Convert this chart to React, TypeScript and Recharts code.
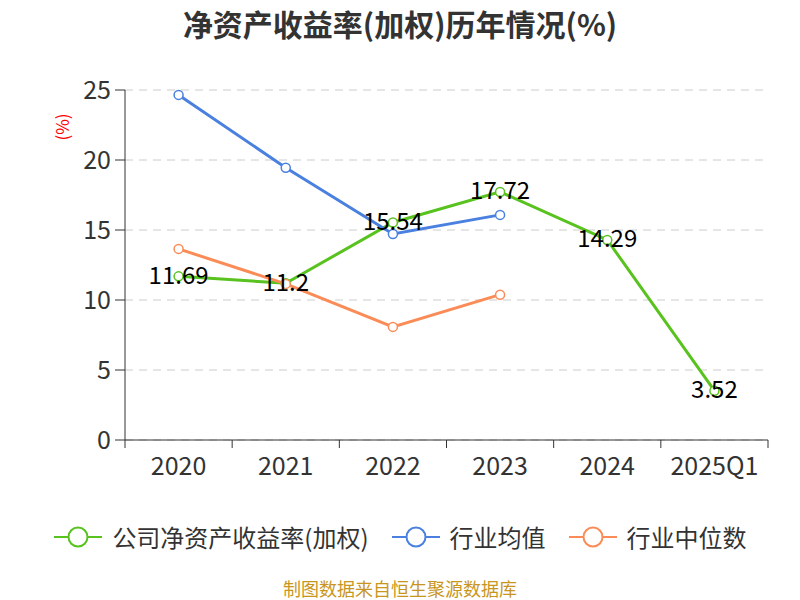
import React from 'react'
import { LineChart, Line, XAxis, YAxis, CartesianGrid, LabelList } from 'recharts'

const categories = ['2020', '2021', '2022', '2023', '2024', '2025Q1']
const companyRoe = [11.69, 11.2, 15.54, 17.72, 14.29, 3.52]
const industryAvg = [24.65, 19.45, 14.72, 16.08, null, null]
const industryMedian = [13.65, 11.15, 8.08, 10.38, null, null]
const yTicks = [0, 5, 10, 15, 20, 25]

const GREEN = '#58c21e'
const BLUE = '#4a80e0'
const ORANGE = '#fb8c57'
const FONT = '"Noto Sans CJK SC", "Noto Sans", sans-serif'
const TICK_SIZE = 8
const TICK_MARGIN = 9

const data = categories.map((name, i) => ({
  name,
  company: companyRoe[i],
  avg: industryAvg[i],
  median: industryMedian[i],
}))

const series = [
  { key: 'company', name: '公司净资产收益率(加权)', color: GREEN },
  { key: 'avg', name: '行业均值', color: BLUE },
  { key: 'median', name: '行业中位数', color: ORANGE },
]

// category label, plus tick marks at the band edges (boundaryGap style)
function CategoryTick(props: any) {
  const { x, y, payload, width, visibleTicksCount, index } = props
  const half = payload && payload.offset ? payload.offset : width / visibleTicksCount / 2
  const axisY = y - TICK_SIZE - TICK_MARGIN
  const last = index === visibleTicksCount - 1
  return (
    <g>
      <line x1={x - half} y1={axisY} x2={x - half} y2={axisY + TICK_SIZE} stroke="#333" />
      {last && <line x1={x + half} y1={axisY} x2={x + half} y2={axisY + TICK_SIZE} stroke="#333" />}
      <text x={x} y={y} dy={18} textAnchor="middle" fontSize={25} fill="#333" fontFamily={FONT}>
        {payload.value}
      </text>
    </g>
  )
}

function ValueLabel(props: any) {
  const { x, y, value } = props
  if (value == null) return null
  return (
    <text x={x} y={y - 3} textAnchor="middle" dominantBaseline="central" fontSize={24} fill="#000" fontFamily={FONT}>
      {value}
    </text>
  )
}

function ChartLegend() {
  return (
    <div
      style={{
        position: 'absolute',
        top: 520,
        width: 800,
        display: 'flex',
        justifyContent: 'center',
        gap: 22,
        fontSize: 24,
        lineHeight: '34px',
        color: '#333',
      }}
    >
      {series.map((s) => (
        <div key={s.key} style={{ display: 'flex', alignItems: 'center' }}>
          <svg width={50} height={34} style={{ marginRight: 9 }}>
            <line x1={1} y1={17} x2={49} y2={17} stroke={s.color} strokeWidth={2} />
            <circle cx={25} cy={17} r={9.5} fill="#fff" stroke={s.color} strokeWidth={2} />
          </svg>
          <span>{s.name}</span>
        </div>
      ))}
    </div>
  )
}

export default function App() {
  return (
    <div style={{ position: 'absolute', left: 0, top: 0, width: 800, height: 600, background: '#fff', fontFamily: FONT }}>
      <LineChart width={800} height={600} data={data} margin={{ top: 90, right: 32, left: 0, bottom: 114 }}>
        <CartesianGrid horizontal vertical={false} stroke="#cccccc" strokeDasharray="8 6" />
        <XAxis
          dataKey="name"
          scale="band"
          interval={0}
          tickLine={false}
          axisLine={{ stroke: '#333' }}
          tick={<CategoryTick />}
          tickSize={TICK_SIZE}
          tickMargin={TICK_MARGIN}
          height={46}
        />
        <YAxis
          domain={[0, 25]}
          ticks={yTicks}
          width={125}
          axisLine={{ stroke: '#333' }}
          tickLine={{ stroke: '#333' }}
          tickSize={10}
          tickMargin={4}
          tick={{ fontSize: 25, fill: '#333', fontFamily: FONT }}
        />
        {series.map((s) => (
          <Line
            key={s.key}
            dataKey={s.key}
            name={s.name}
            stroke={s.color}
            strokeWidth={3}
            dot={{ r: 4.5, fill: '#fff', stroke: s.color, strokeWidth: 1.5 }}
            activeDot={false}
            isAnimationActive={false}
          >
            {s.key === 'company' && <LabelList dataKey="company" content={ValueLabel} />}
          </Line>
        ))}
      </LineChart>
      <div style={{ position: 'absolute', top: 2, width: 800, textAlign: 'center', fontSize: 30, lineHeight: '42px', fontWeight: 700, color: '#333' }}>
        净资产收益率(加权)历年情况(%)
      </div>
      <div
        style={{
          position: 'absolute',
          left: 62,
          top: 127,
          transform: 'translate(-50%, -50%) rotate(-90deg)',
          color: '#f00',
          fontSize: 17,
          lineHeight: '20px',
        }}
      >
        (%)
      </div>
      <ChartLegend />
      <div style={{ position: 'absolute', top: 578, width: 800, textAlign: 'center', fontSize: 18, lineHeight: '20px', color: '#c8961e' }}>
        制图数据来自恒生聚源数据库
      </div>
    </div>
  )
}
